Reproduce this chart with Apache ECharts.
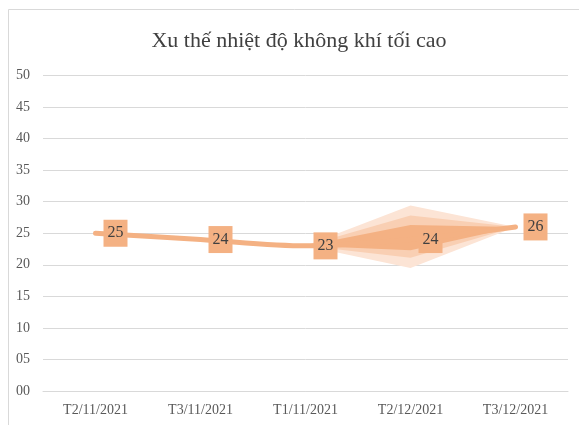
<!DOCTYPE html>
<html>
<head>
<meta charset="utf-8">
<script src="https://cdn.jsdelivr.net/npm/echarts@6/dist/echarts.min.js"></script>
<style>
  html, body { margin: 0; padding: 0; background: #fff; }
  #chart { width: 579px; height: 425px; }
</style>
</head>
<body>
<div id="chart"></div>
<script>
const categories = ['T2/11/2021', 'T3/11/2021', 'T1/11/2021', 'T2/12/2021', 'T3/12/2021'];
const tempMax = [25, 24, 23, 24, 26];

// spread bands around the trend (lower / upper), only on the last two segments
const outerLow = [null, null, 23, 19.5, 26];
const outerHigh = [null, null, 23, 29.4, 26];
const midLow = [null, null, 23, 21.1, 26];
const midHigh = [null, null, 23, 27.8, 26];
const innerLow = [null, null, 23, 22.3, 26];
const innerHigh = [null, null, 23, 26.3, 26];

const serif = '"Liberation Serif", "DejaVu Serif", serif';
const orange = '#f4b183';

function band(name, low, high, color, z) {
  const diff = low.map((v, i) => (v == null ? null : +(high[i] - v).toFixed(2)));
  return [
    {
      name: name + '-base',
      type: 'line',
      stack: name,
      data: low,
      symbol: 'none',
      lineStyle: { opacity: 0 },
      silent: true,
      z: z,
    },
    {
      name: name,
      type: 'line',
      stack: name,
      data: diff,
      symbol: 'none',
      lineStyle: { opacity: 0 },
      areaStyle: { color: color, opacity: 1 },
      silent: true,
      z: z,
    },
  ];
}

const chart = echarts.init(document.getElementById('chart'));

const option = {
  animation: false,
  backgroundColor: '#fff',
  title: {
    text: 'Xu thế nhiệt độ không khí tối cao',
    left: 294,
    textAlign: 'center',
    top: 25,
    textStyle: { fontFamily: serif, fontSize: 22, fontWeight: 'normal', color: '#404040' },
  },
  graphic: [
    {
      type: 'rect',
      shape: { x: 8.5, y: 9.5, width: 620, height: 500 },
      style: { fill: 'none', stroke: '#d9d9d9', lineWidth: 1 },
      silent: true,
    },
  ],
  grid: { left: 43, right: 11, top: 75.5, bottom: 34 },
  xAxis: {
    type: 'category',
    data: categories,
    axisLine: { lineStyle: { color: '#d9d9d9' } },
    axisTick: { show: false },
    axisLabel: { fontFamily: serif, fontSize: 14, color: '#595959', margin: 12 },
  },
  yAxis: {
    type: 'value',
    min: 0,
    max: 50,
    interval: 5,
    axisLine: { show: false },
    axisTick: { show: false },
    splitLine: { lineStyle: { color: '#d9d9d9' } },
    axisLabel: {
      fontFamily: serif,
      fontSize: 14,
      color: '#595959',
      margin: 13,
      formatter: (v) => String(v).padStart(2, '0'),
    },
  },
  series: [
    ...band('outer', outerLow, outerHigh, '#fce4d5', 2),
    ...band('mid', midLow, midHigh, '#f9cfb3', 3),
    ...band('inner', innerLow, innerHigh, orange, 4),
    {
      name: 'Nhiệt độ',
      type: 'line',
      data: tempMax,
      smooth: 0.3,
      symbol: 'none',
      lineStyle: { color: orange, width: 5, cap: 'round' },
      z: 5,
    },
    {
      name: 'labels',
      type: 'scatter',
      data: tempMax,
      symbolSize: 0,
      itemStyle: { opacity: 1 },
      silent: true,
      z: 6,
      label: {
        show: true,
        position: 'right',
        distance: 8,
        backgroundColor: orange,
        padding: [6, 4, 5, 4],
        fontFamily: serif,
        fontSize: 16,
        color: '#404040',
        formatter: (p) => p.value,
      },
    },
  ],
};

chart.setOption(option);
</script>
</body>
</html>
